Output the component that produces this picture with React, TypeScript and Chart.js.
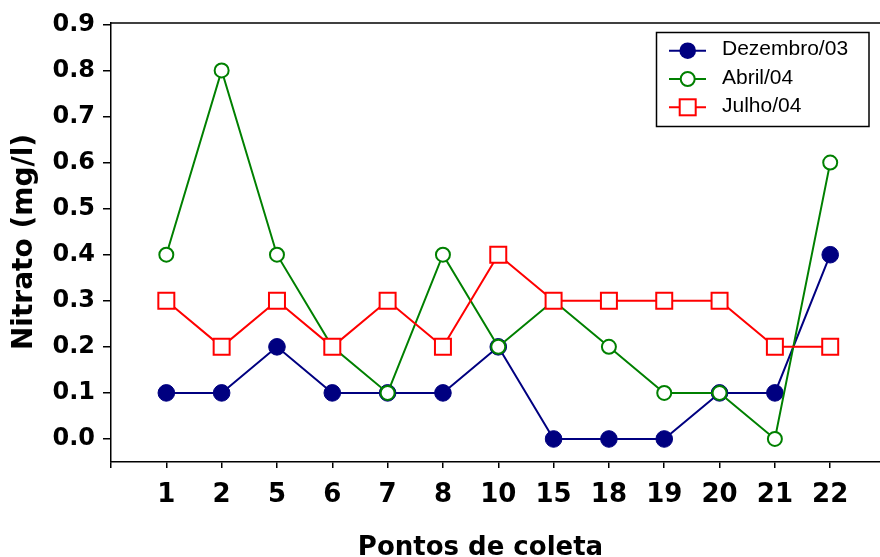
import React, { useEffect, useRef } from 'react';
import { Chart, registerables } from 'chart.js';

Chart.register(...registerables);

const categories = ['1', '2', '5', '6', '7', '8', '10', '15', '18', '19', '20', '21', '22'];
const dezembro03 = [0.1, 0.1, 0.2, 0.1, 0.1, 0.1, 0.2, 0.0, 0.0, 0.0, 0.1, 0.1, 0.4];
const abril04 = [0.4, 0.8, 0.4, 0.2, 0.1, 0.4, 0.2, 0.3, 0.2, 0.1, 0.1, 0.0, 0.6];
const julho04 = [0.3, 0.2, 0.3, 0.2, 0.3, 0.2, 0.4, 0.3, 0.3, 0.3, 0.3, 0.2, 0.2];
const yTickValues = [0.0, 0.1, 0.2, 0.3, 0.4, 0.5, 0.6, 0.7, 0.8, 0.9];
const seriesNames = ['Dezembro/03', 'Abril/04', 'Julho/04'];
const xTitle = 'Pontos de coleta';
const yTitle = 'Nitrato (mg/l)';

const BLUE = '#000080';
const GREEN = '#008000';
const RED = '#ff0000';
const BOLD_FONT = 'DejaVu Sans';

const toPoints = (arr: number[]) => arr.map((v, i) => ({ x: i, y: v }));

const decorPlugin = {
  id: 'decor',
  afterDraw(chart: any) {
    const ctx = chart.ctx as CanvasRenderingContext2D;
    const area = chart.chartArea;
    ctx.save();
    // top frame line
    ctx.strokeStyle = '#000';
    ctx.lineWidth = 1.5;
    ctx.beginPath();
    ctx.moveTo(area.left, area.top);
    ctx.lineTo(area.right, area.top);
    ctx.stroke();

    // axis titles
    ctx.fillStyle = '#000';
    ctx.font = `bold 26px "${BOLD_FONT}"`;
    ctx.textAlign = 'center';
    ctx.textBaseline = 'alphabetic';
    ctx.fillText(xTitle, 480.5, 555);

    ctx.save();
    ctx.translate(31.5, 242);
    ctx.rotate(-Math.PI / 2);
    ctx.font = `bold 28px "${BOLD_FONT}"`;
    ctx.fillText(yTitle, 0, 0);
    ctx.restore();

    // legend
    const bx = 656.5, by = 32.5, bw = 212.5, bh = 94;
    ctx.fillStyle = '#fff';
    ctx.fillRect(bx, by, bw, bh);
    ctx.strokeStyle = '#000';
    ctx.lineWidth = 1.5;
    ctx.strokeRect(bx, by, bw, bh);
    const rows = [50.7, 79, 107.3];
    const colors = [BLUE, GREEN, RED];
    ctx.font = '21px "Liberation Sans", Arial, sans-serif';
    ctx.textAlign = 'left';
    ctx.textBaseline = 'middle';
    rows.forEach((ry, i) => {
      ctx.strokeStyle = colors[i];
      ctx.lineWidth = 2;
      ctx.beginPath();
      ctx.moveTo(669, ry);
      ctx.lineTo(706, ry);
      ctx.stroke();
      const cx = 687.7;
      if (i === 0) {
        ctx.fillStyle = BLUE;
        ctx.beginPath();
        ctx.arc(cx, ry, 8.3, 0, Math.PI * 2);
        ctx.fill();
      } else if (i === 1) {
        ctx.fillStyle = '#fff';
        ctx.beginPath();
        ctx.arc(cx, ry, 7, 0, Math.PI * 2);
        ctx.fill();
        ctx.stroke();
      } else {
        ctx.fillStyle = '#fff';
        ctx.fillRect(cx - 8, ry - 8, 16, 16);
        ctx.strokeRect(cx - 8, ry - 8, 16, 16);
      }
      ctx.fillStyle = '#000';
      ctx.fillText(seriesNames[i], 722, ry - 1);
    });
    ctx.restore();
  },
};

export default function App() {
  const ref = useRef<HTMLCanvasElement>(null);
  useEffect(() => {
    if (!ref.current) return;
    const chart = new Chart(ref.current, {
      type: 'line',
      data: {
        datasets: [
          {
            label: seriesNames[0],
            data: toPoints(dezembro03),
            borderColor: BLUE,
            backgroundColor: BLUE,
            borderWidth: 2,
            pointStyle: 'circle',
            pointRadius: 8.3,
            pointBackgroundColor: BLUE,
            pointBorderColor: BLUE,
            pointBorderWidth: 1,
            order: 3,
          },
          {
            label: seriesNames[1],
            data: toPoints(abril04),
            borderColor: GREEN,
            backgroundColor: '#fff',
            borderWidth: 2,
            pointStyle: 'circle',
            pointRadius: 7,
            pointBackgroundColor: '#fff',
            pointBorderColor: GREEN,
            pointBorderWidth: 2,
            order: 2,
          },
          {
            label: seriesNames[2],
            data: toPoints(julho04),
            borderColor: RED,
            backgroundColor: '#fff',
            borderWidth: 2,
            pointStyle: 'rect',
            pointRadius: 11.3,
            pointBackgroundColor: '#fff',
            pointBorderColor: RED,
            pointBorderWidth: 2,
            order: 1,
          },
        ],
      },
      options: {
        responsive: false,
        animation: false,
        events: [],
        layout: { autoPadding: false, padding: { top: 23, left: 0, right: 0, bottom: 0 } },
        plugins: {
          legend: { display: false },
          tooltip: { enabled: false },
          title: { display: false },
        },
        elements: { line: { tension: 0 } },
        scales: {
          x: {
            type: 'linear',
            min: -1,
            max: 12.9,
            afterBuildTicks: (s: any) => {
              s.ticks = [-1, ...categories.map((_, i) => i)].map((v) => ({ value: v }));
            },
            afterFit: (s: any) => {
              s.height = 95;
              s.paddingLeft = 0;
              s.paddingRight = 0;
            },
            ticks: {
              callback: (v: any) => categories[v as number] ?? '',
              font: { family: BOLD_FONT, weight: 'bold', size: 26 },
              color: '#000',
              padding: 12,
              maxRotation: 0,
              autoSkip: false,
            },
            grid: { drawOnChartArea: false, tickLength: 6, color: '#000', lineWidth: 1.5 },
            border: { color: '#000', width: 1.5 },
          },
          y: {
            type: 'linear',
            min: -0.05,
            max: 0.903,
            afterBuildTicks: (s: any) => {
              s.ticks = yTickValues.map((v) => ({ value: v }));
            },
            afterFit: (s: any) => {
              s.width = 111;
              s.paddingTop = 0;
              s.paddingBottom = 0;
            },
            ticks: {
              callback: (v: any) => Number(v).toFixed(1),
              font: { family: BOLD_FONT, weight: 'bold', size: 24 },
              color: '#000',
              padding: 8,
            },
            grid: { drawOnChartArea: false, tickLength: 8, color: '#000', lineWidth: 1.5 },
            border: { color: '#000', width: 1.5 },
          },
        },
      },
      plugins: [decorPlugin],
    } as any);
    return () => chart.destroy();
  }, []);
  return (
    <div style={{ position: 'absolute', left: 0, top: 0, width: 880, height: 557, background: '#fff' }}>
      <canvas ref={ref} width={880} height={557} />
    </div>
  );
}
